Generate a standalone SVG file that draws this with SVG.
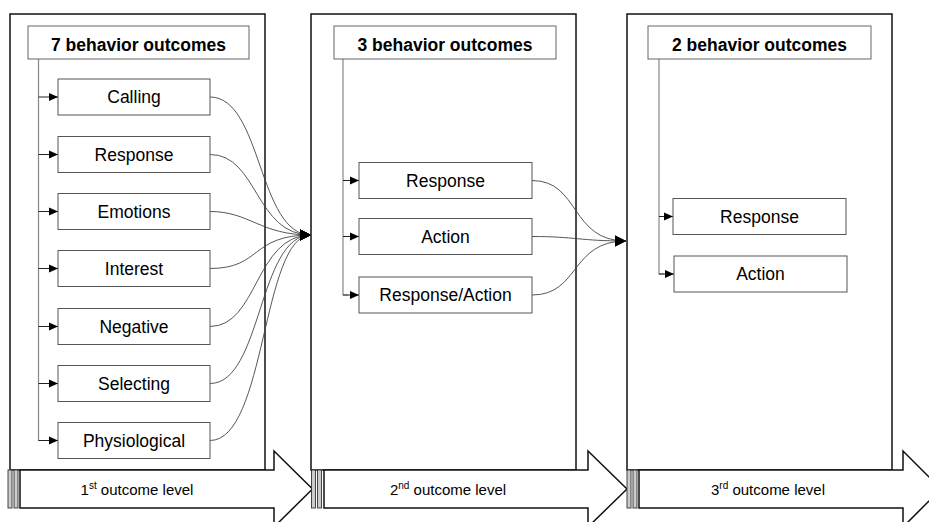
<svg xmlns="http://www.w3.org/2000/svg" width="929" height="522" viewBox="0 0 929 522">
<style>
.panel{fill:#fff;stroke:#111;stroke-width:1.5}
.hdr{fill:#fff;stroke:#666;stroke-width:1}
.box{fill:#fff;stroke:#555;stroke-width:1}
.trunk{fill:none;stroke:#888;stroke-width:1.2}
.tick{fill:none;stroke:#222;stroke-width:1}
.conn{fill:none;stroke:#444;stroke-width:0.9}
.arrow{fill:#fff;stroke:#111;stroke-width:1.5}
.stripe{fill:#ccc;stroke:#333;stroke-width:0.9}
.ht{font-family:"Liberation Sans",Arial,sans-serif;font-weight:bold;font-size:17.5px;fill:#000;text-anchor:middle}
.bt{font-family:"Liberation Sans",Arial,sans-serif;font-size:17.5px;fill:#000;text-anchor:middle}
.lt{font-family:"Liberation Sans",Arial,sans-serif;font-size:15px;fill:#000;text-anchor:middle}
</style>
<defs>
<marker id="small" markerUnits="userSpaceOnUse" markerWidth="10" markerHeight="10" refX="9" refY="5" orient="auto"><path d="M0,1 L9,5 L0,9 Z" fill="#000"/></marker>
<marker id="big" markerUnits="userSpaceOnUse" markerWidth="12" markerHeight="12" refX="11" refY="6" orient="auto"><path d="M0,0.5 L11,6 L0,11.5 Z" fill="#000"/></marker>
</defs>

<g id="panel1"><rect class="panel" x="10" y="14" width="255" height="456"/></g>
<g id="panel2"><rect class="panel" x="311" y="14" width="265" height="456"/></g>
<g id="panel3"><rect class="panel" x="627" y="14" width="265" height="456"/></g>

<g id="level1">
<rect class="stripe" x="8" y="470" width="4" height="38"/>
<rect class="stripe" x="14" y="470" width="4" height="38"/>
<path class="arrow" d="M20,470 L274,470 L274,451 L312.5,489 L274,527 L274,508 L20,508 Z"/>
<text class="lt" x="137" y="494.5">1<tspan font-size="10" dy="-6">st</tspan><tspan dy="6"> outcome level</tspan></text>
</g>
<g id="level2">
<rect class="stripe" x="311.5" y="470" width="4" height="38"/>
<rect class="stripe" x="317.5" y="470" width="4" height="38"/>
<path class="arrow" d="M324,470 L588,470 L588,451 L627,489 L588,527 L588,508 L324,508 Z"/>
<text class="lt" x="448" y="494.5">2<tspan font-size="10" dy="-6">nd</tspan><tspan dy="6"> outcome level</tspan></text>
</g>
<g id="level3">
<rect class="stripe" x="627" y="470" width="4" height="38"/>
<rect class="stripe" x="633" y="470" width="4" height="38"/>
<path class="arrow" d="M639,470 L903,470 L903,451 L941,489 L903,527 L903,508 L639,508 Z"/>
<text class="lt" x="768" y="494.5">3<tspan font-size="10" dy="-6">rd</tspan><tspan dy="6"> outcome level</tspan></text>
</g>

<g id="connectors">
<path class="trunk" d="M38.5,59 V440.5 H44"/>
<path class="trunk" d="M343,59 V295 H348"/>
<path class="trunk" d="M659,59 V274 H664"/>
<g class="tick" marker-end="url(#small)">
<path d="M38.5,97 H58"/>
<path d="M38.5,154.5 H58"/>
<path d="M38.5,211.5 H58"/>
<path d="M38.5,268.5 H58"/>
<path d="M38.5,326.5 H58"/>
<path d="M38.5,383.5 H58"/>
<path d="M38.5,440.5 H58"/>
<path d="M343,180.5 H359"/>
<path d="M343,236.5 H359"/>
<path d="M343,295 H359"/>
<path d="M659,216.5 H673"/>
<path d="M659,274 H674"/>
</g>
<g class="conn" marker-end="url(#big)">
<path d="M210,97 C262,97 258,235 311,235"/>
<path d="M210,154.5 C258,154.5 255,235 311,235"/>
<path d="M210,211.5 C250,211.5 260,235 311,235"/>
<path d="M210,268.5 C262,268.5 250,235 311,235"/>
<path d="M210,326.5 C258,326.5 255,235 311,235"/>
<path d="M210,383.5 C262,383.5 258,235 311,235"/>
<path d="M210,440.5 C266,440.5 262,235 311,235"/>
<path d="M532,180.5 C580,180.5 570,241 626,241"/>
<path d="M532,236.5 C575,236.5 580,241 626,241"/>
<path d="M532,295 C580,295 570,241 626,241"/>
</g>
</g>

<g id="h1"><rect class="hdr" x="28" y="26" width="221" height="33"/><text class="ht" x="138.5" y="50.5">7 behavior outcomes</text></g>
<g id="h2"><rect class="hdr" x="334" y="26" width="222" height="33"/><text class="ht" x="445" y="50.5">3 behavior outcomes</text></g>
<g id="h3"><rect class="hdr" x="648" y="26" width="223" height="33"/><text class="ht" x="759.5" y="50.5">2 behavior outcomes</text></g>

<g id="calling"><rect class="box" x="58" y="79" width="152" height="36"/><text class="bt" x="134" y="103">Calling</text></g>
<g id="response1"><rect class="box" x="58" y="136.5" width="152" height="36"/><text class="bt" x="134" y="160.5">Response</text></g>
<g id="emotions"><rect class="box" x="58" y="193.5" width="152" height="36"/><text class="bt" x="134" y="217.5">Emotions</text></g>
<g id="interest"><rect class="box" x="58" y="250.5" width="152" height="36"/><text class="bt" x="134" y="274.5">Interest</text></g>
<g id="negative"><rect class="box" x="58" y="308.5" width="152" height="36"/><text class="bt" x="134" y="332.5">Negative</text></g>
<g id="selecting"><rect class="box" x="58" y="365.5" width="152" height="36"/><text class="bt" x="134" y="389.5">Selecting</text></g>
<g id="physiological"><rect class="box" x="58" y="422.5" width="152" height="36"/><text class="bt" x="134" y="446.5">Physiological</text></g>

<g id="response2"><rect class="box" x="359" y="162.5" width="173" height="36"/><text class="bt" x="445.5" y="186.5">Response</text></g>
<g id="action2"><rect class="box" x="359" y="218.5" width="173" height="36"/><text class="bt" x="445.5" y="242.5">Action</text></g>
<g id="responseaction2"><rect class="box" x="359" y="277" width="173" height="36"/><text class="bt" x="445.5" y="301">Response/Action</text></g>

<g id="response3"><rect class="box" x="673" y="198.5" width="173" height="36"/><text class="bt" x="759.5" y="222.5">Response</text></g>
<g id="action3"><rect class="box" x="674" y="256" width="173" height="36"/><text class="bt" x="760.5" y="280">Action</text></g>
</svg>
